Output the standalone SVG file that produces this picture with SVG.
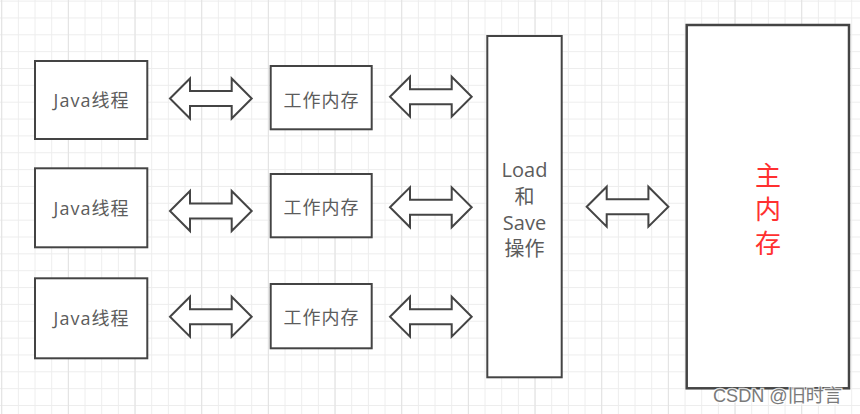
<svg xmlns="http://www.w3.org/2000/svg" xmlns:xlink="http://www.w3.org/1999/xlink" width="860" height="414" viewBox="0 0 860 414">
<defs>
<style>
.box{fill:#ffffff;stroke:#444444;stroke-width:2}
.arr{fill:#ffffff;stroke:#444444;stroke-width:2;stroke-linejoin:miter}
.t{font-family:"Open Sans","Noto Sans CJK SC",sans-serif;font-size:18px;fill:#5c5c5c;text-anchor:middle;letter-spacing:1px}
.tl{font-family:"Open Sans","Noto Sans CJK SC",sans-serif;font-size:20px;fill:#5c5c5c;text-anchor:middle}
.tr{font-family:"Open Sans","Noto Sans CJK SC",sans-serif;font-size:26px;fill:#ff3030;text-anchor:middle}
.wm{font-family:"Liberation Sans","Noto Sans CJK SC",sans-serif;font-size:18px;fill:#7a7a7a;stroke:#ffffff;stroke-width:2.5;paint-order:stroke;stroke-opacity:0.8}
</style>
<pattern id="gv" patternUnits="userSpaceOnUse" x="1.2" y="0" width="16.667" height="20">
<rect x="0" y="0" width="1" height="20" fill="#ededed"/>
</pattern>
<pattern id="gh" patternUnits="userSpaceOnUse" x="0" y="0.6" width="20" height="16.85">
<rect x="0" y="0" width="20" height="1" fill="#ededed"/>
</pattern>
<pattern id="gV" patternUnits="userSpaceOnUse" x="1.2" y="0" width="66.667" height="20">
<rect x="0" y="0" width="1" height="20" fill="#e2e2e2"/>
</pattern>
<path id="dbl" d="M0,0 L20,-20 L20,-7.5 L61.7,-7.5 L61.7,-20 L81.7,0 L61.7,20 L61.7,7.5 L20,7.5 L20,20 Z"/>
</defs>
<rect width="860" height="414" fill="#ffffff"/>
<rect width="860" height="414" fill="url(#gh)"/>
<rect width="860" height="414" fill="url(#gv)"/>
<rect width="860" height="414" fill="url(#gV)"/>

<g id="connectors" class="arr">
<use xlink:href="#dbl" x="170" y="98.5"/>
<use xlink:href="#dbl" x="170" y="211"/>
<use xlink:href="#dbl" x="170" y="316.7"/>
<use xlink:href="#dbl" x="390" y="96.7"/>
<use xlink:href="#dbl" x="390" y="207.3"/>
<use xlink:href="#dbl" x="390" y="316.7"/>
<use xlink:href="#dbl" x="586.7" y="206.7"/>
</g>

<g id="java1"><rect class="box" x="35" y="61" width="112.3" height="78"/><text class="t" x="91.5" y="107">Java线程</text></g>
<g id="java2"><rect class="box" x="35" y="168.3" width="112.3" height="79"/><text class="t" x="91.5" y="214.5">Java线程</text></g>
<g id="java3"><rect class="box" x="35" y="278.3" width="112.3" height="80"/><text class="t" x="91.5" y="325">Java线程</text></g>

<g id="work1"><rect class="box" x="270.7" y="66" width="101" height="63.3"/><text class="t" x="321.5" y="107">工作内存</text></g>
<g id="work2"><rect class="box" x="270.7" y="174" width="101" height="63.3"/><text class="t" x="321.5" y="213.5">工作内存</text></g>
<g id="work3"><rect class="box" x="270.7" y="284" width="101" height="64.3"/><text class="t" x="321.5" y="323.5">工作内存</text></g>

<g id="loadsave"><rect class="box" x="487.3" y="36" width="74.4" height="341.3"/>
<text class="tl" x="524.5" y="176.5">Load</text>
<text class="tl" x="524.5" y="203.5">和</text>
<text class="tl" x="524.5" y="229.5">Save</text>
<text class="tl" x="524.5" y="256">操作</text>
</g>

<g id="mainmem"><rect class="box" x="686.7" y="25" width="162.3" height="363.3" style="stroke-width:2.5"/>
<text class="tr" x="768" y="185">主</text>
<text class="tr" x="768" y="219">内</text>
<text class="tr" x="768" y="253">存</text>
</g>

<text class="wm" x="713" y="402" textLength="129" lengthAdjust="spacingAndGlyphs">CSDN @旧时言</text>
</svg>
